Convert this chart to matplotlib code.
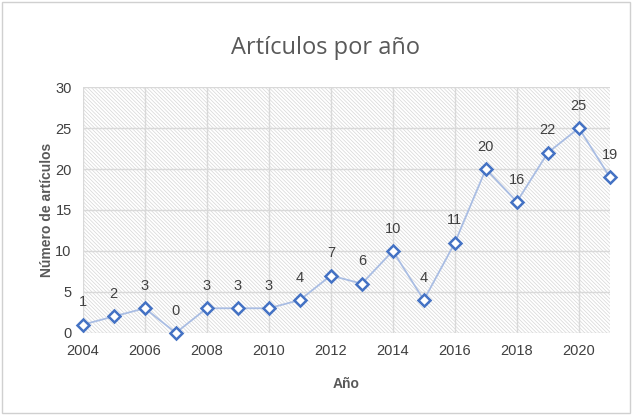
import matplotlib
matplotlib.use("Agg")
import matplotlib.pyplot as plt
from matplotlib.patches import Rectangle

years = [2004, 2005, 2006, 2007, 2008, 2009, 2010, 2011, 2012, 2013,
         2014, 2015, 2016, 2017, 2018, 2019, 2020, 2021]
counts = [1, 2, 3, 0, 3, 3, 3, 4, 7, 6, 10, 4, 11, 20, 16, 22, 25, 19]
xticks = [2004, 2006, 2008, 2010, 2012, 2014, 2016, 2018, 2020]
yticks = [0, 5, 10, 15, 20, 25, 30]

plt.rcParams['font.family'] = ['Liberation Sans Narrow', 'Liberation Sans', 'DejaVu Sans']
plt.rcParams['hatch.linewidth'] = 0.5
plt.rcParams['hatch.color'] = '#d6d6d6'

fig = plt.figure(figsize=(6.32, 4.15), dpi=100)
ax = fig.add_axes([0.131, 0.198, 0.834, 0.592])

ax.add_patch(Rectangle((0, 0), 1, 1, transform=ax.transAxes, facecolor='white',
                       edgecolor='#d6d6d6', hatch='\\' * 9, linewidth=0, zorder=0))

ax.set_xlim(2004, 2021)
ax.set_ylim(0, 30)
ax.set_xticks(xticks)
ax.set_yticks(yticks)
ax.grid(True, color='#d9d9d9', linewidth=1.0, zorder=1)
ax.set_axisbelow(True)
for s in ax.spines.values():
    s.set_visible(False)
ax.tick_params(length=0, labelsize=10.5, colors='#404040', pad=8)
for lab in ax.get_xticklabels() + ax.get_yticklabels():
    lab.set_color('#404040')

ax.plot(years, counts, color='#a9bde3', linewidth=1.3, zorder=3, clip_on=False)
ax.plot(years, counts, linestyle='none', marker='D', markersize=6.5,
        markerfacecolor='white', markeredgecolor='#4472c4', markeredgewidth=1.8,
        zorder=4, clip_on=False)

for x, y in zip(years, counts):
    ax.annotate(str(y), (x, y), xytext=(0, 11), textcoords='offset points',
                ha='center', va='bottom', fontsize=10.5, color='#404040')

ax.set_xlabel('Año', fontsize=10, fontweight='bold', color='#595959', labelpad=14)
ax.set_ylabel('Número de artículos', fontsize=10, fontweight='bold', color='#595959', labelpad=1)

fig.text(0.5 + 0.015, 0.885, 'Artículos por año', ha='center', va='center',
         fontsize=17, color='#595959', family=['Open Sans', 'DejaVu Sans'])

fig.patches.append(Rectangle((0.003, 0.004), 0.994, 0.992, transform=fig.transFigure,
                             fill=False, edgecolor='#d0d0d0', linewidth=1.0))

fig.savefig('out.png', dpi=100)
